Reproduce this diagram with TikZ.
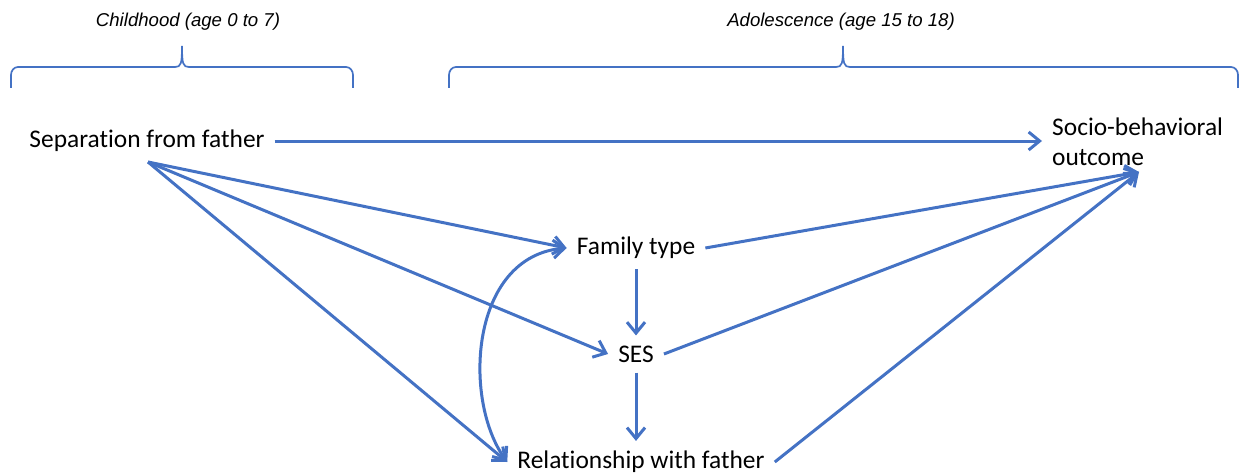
\documentclass[tikz,border=0pt]{standalone}
\usepackage{fontspec}
\setmainfont{Carlito}[Ligatures=NoCommon]
\newfontfamily\arialfont{Liberation Sans}
\usetikzlibrary{arrows.meta}
\definecolor{oblue}{HTML}{4472C4}
\begin{document}
\begin{tikzpicture}[x=1pt,y=-1pt,
  lbl/.style={font=\fontsize{25.4}{30}\selectfont, inner sep=10pt},
  hdr/.style={font=\arialfont\itshape\fontsize{18.6}{22}\selectfont, inner sep=0pt},
  conn/.style={draw=oblue, line width=3pt, -{Straight Barb[length=11pt,width=18pt,line width=3pt]}},
  twoway/.style={draw=oblue, line width=3pt, {Straight Barb[length=11pt,width=18pt,line width=3pt]}-{Straight Barb[length=11pt,width=18pt,line width=3pt]}},
  brace/.style={draw=oblue, line width=1.7pt}]
\useasboundingbox (0,0) rectangle (1241,476);
% headings
\node[hdr] (h1) at (188,22) {Childhood (age 0 to 7)};
\node[hdr] (h2) at (841,22) {Adolescence (age 15 to 18)};
% braces
\draw[brace] (11,88) -- (11,75) to[out=90,in=180] (18,67) -- (175,67) .. controls (181,67) and (182,64) .. (182,46) .. controls (182,64) and (183,67) .. (189,67) -- (346,67) to[out=0,in=90] (353,75) -- (353,88);
\draw[brace] (449,88) -- (449,75) to[out=90,in=180] (456,67) -- (836,67) .. controls (842,67) and (843,64) .. (843,46) .. controls (843,64) and (844,67) .. (850,67) -- (1231,67) to[out=0,in=90] (1238,75) -- (1238,88);
% nodes
\node[lbl] (sep) at (147,141) {Separation from father};
\node[lbl, align=left, anchor=west] (soc) at (1042,142) {Socio-behavioral\\outcome};
\node[lbl] (fam) at (636,248) {Family type};
\node[lbl] (ses) at (636,354) {SES};
\node[lbl] (rel) at (641,462) {Relationship with father};
\coordinate (fan) at (148,162);
\coordinate (socin) at (1139,172);
% connectors
\draw[conn] (sep.east) -- (soc.west |- sep.east);
\draw[conn] (fan) -- (fam.west);
\draw[conn] (fan) -- (ses.west);
\draw[conn] (fan) -- (rel.west);
\draw[conn] (fam.south) -- (ses.north);
\draw[conn] (ses.south) -- (ses.south |- rel.north);
\draw[conn] (fam.east) -- (socin);
\draw[conn] (ses.east) -- (socin);
\draw[conn] (rel.east) -- (socin);
\draw[twoway] (fam.west) .. controls (470,256) and (462,400) .. (rel.west);
\end{tikzpicture}
\end{document}
